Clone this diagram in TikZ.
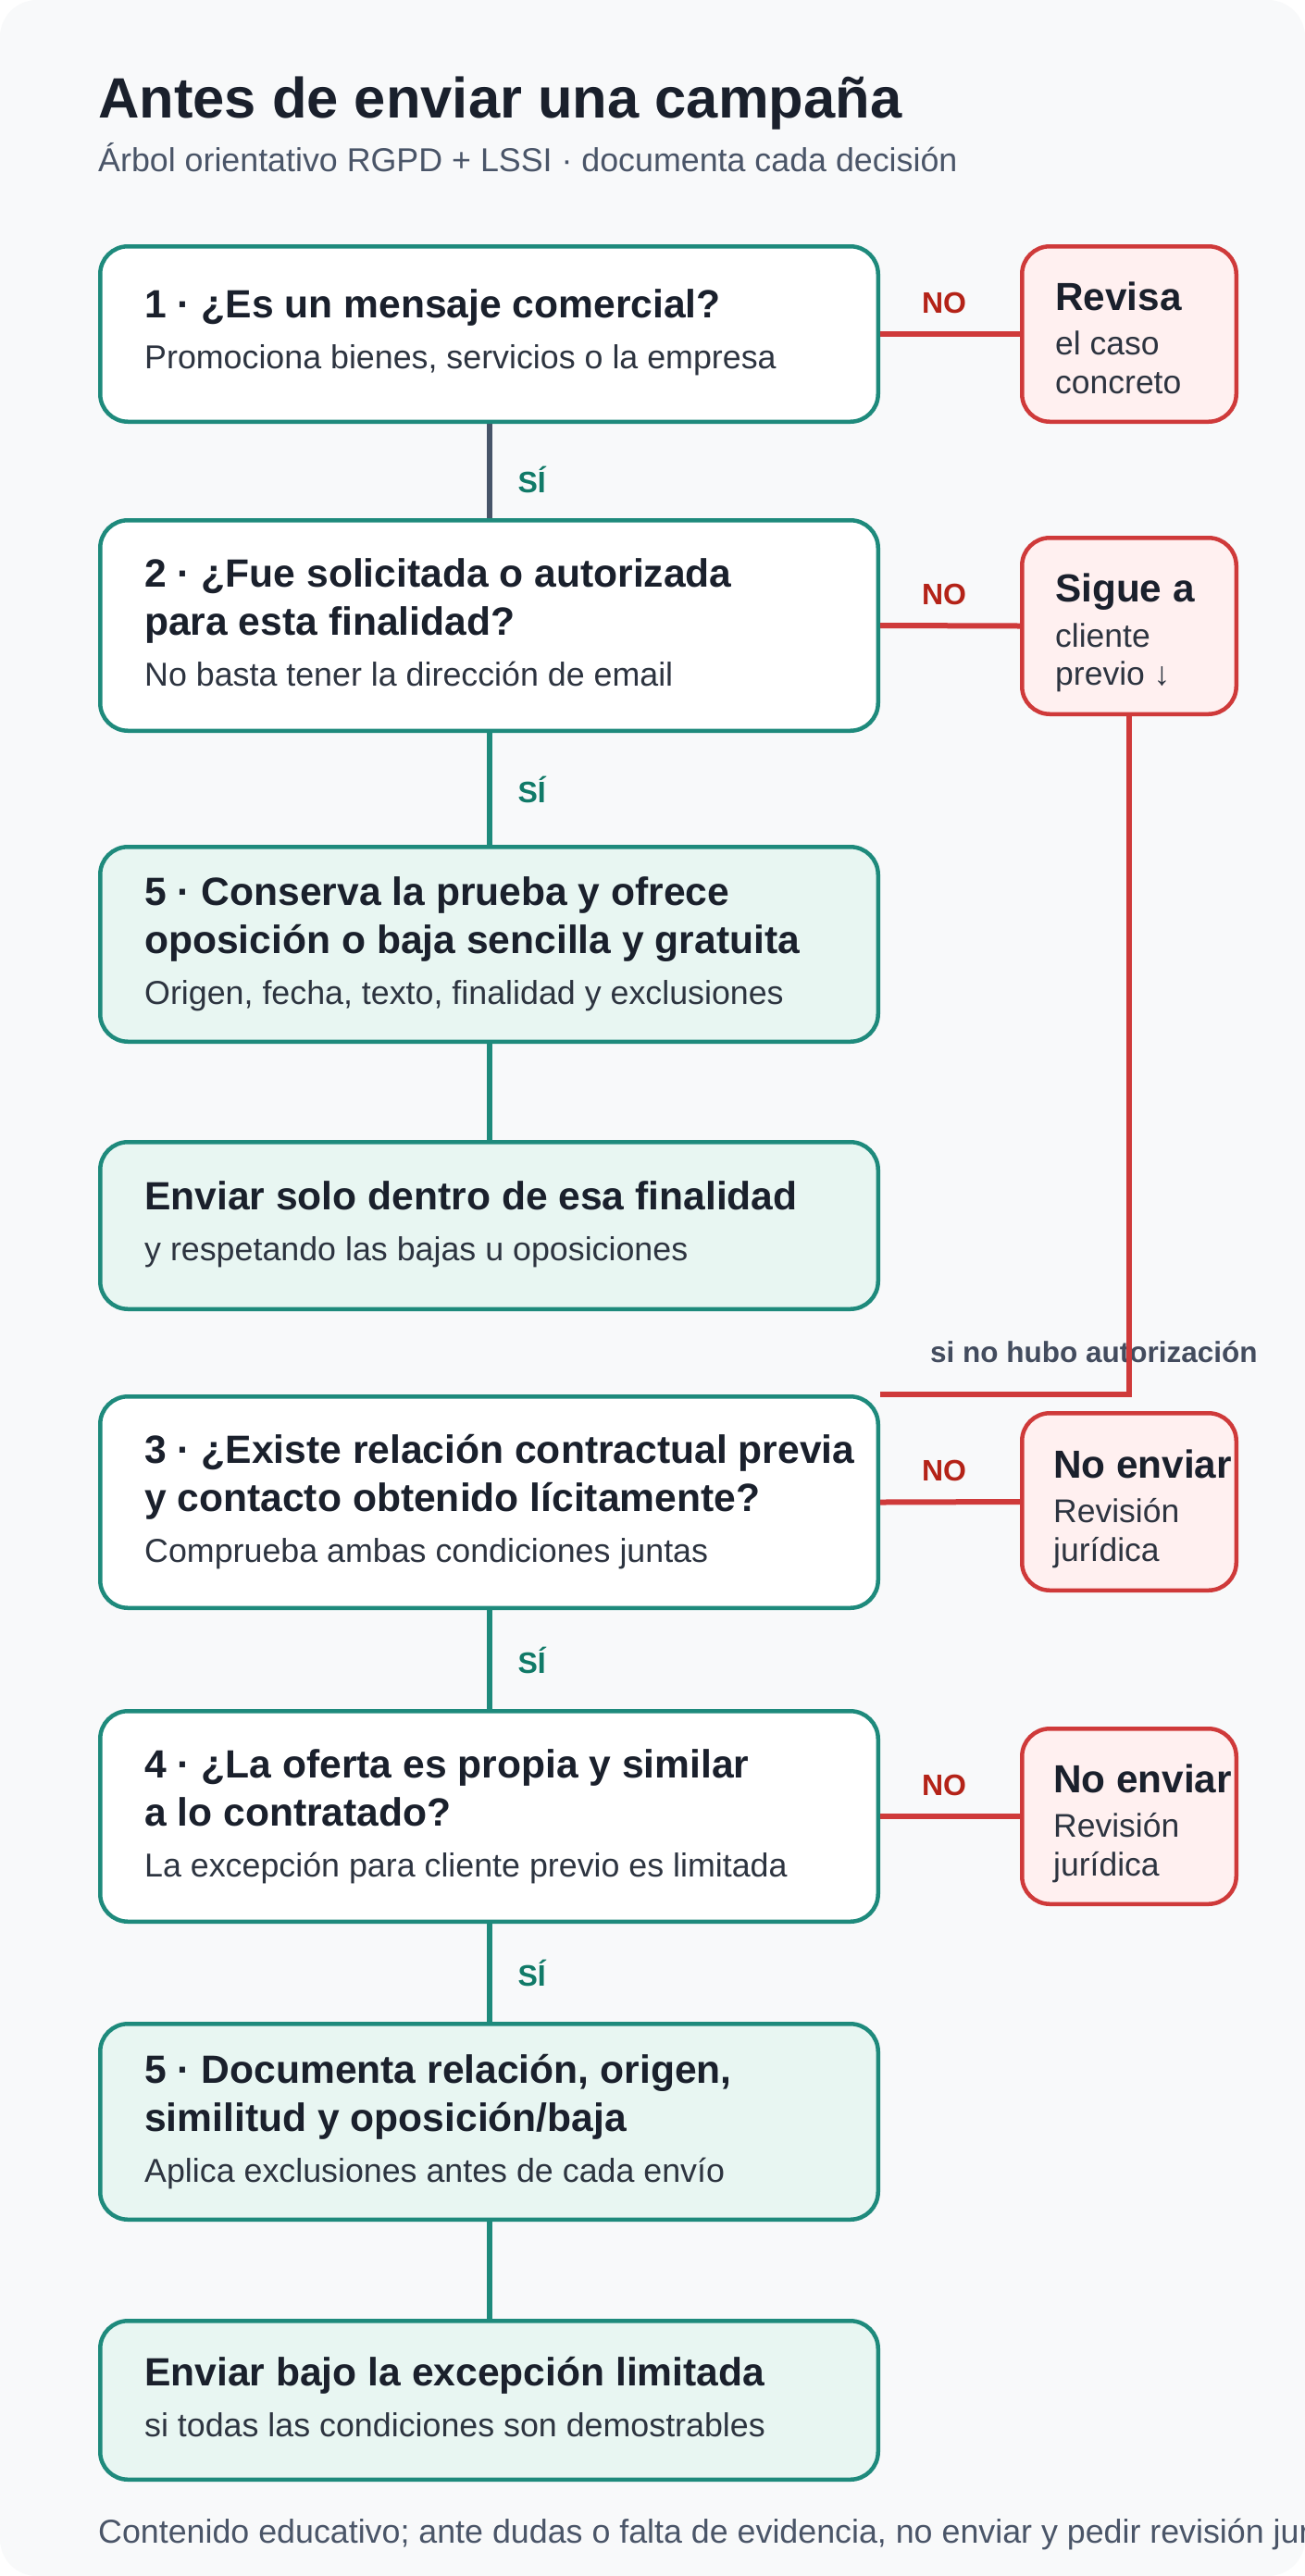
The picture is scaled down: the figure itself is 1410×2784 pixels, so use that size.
\documentclass[tikz,border=0pt]{standalone}
\usepackage{fontspec}
\setmainfont{Liberation Sans}

\definecolor{card}{HTML}{F8F9FA}
\definecolor{ink}{HTML}{1A202C}
\definecolor{subink}{HTML}{2D3440}
\definecolor{muted}{HTML}{4A5568}
\definecolor{tealline}{HTML}{1E8A7C}
\definecolor{slateline}{HTML}{475569}
\definecolor{mint}{HTML}{E8F6F2}
\definecolor{redline}{HTML}{CF3A3A}
\definecolor{rosefill}{HTML}{FFF0F0}
\definecolor{nored}{HTML}{B42318}
\definecolor{yesgreen}{HTML}{117A68}
\definecolor{notegray}{HTML}{434C5E}

% font switch that keeps the font's own word spacing
\newcommand\setfs[2]{\fontsize{#1}{#2}\selectfont\spaceskip=0pt\xspaceskip=0pt\relax}
% question / outcome box contents: bold heading lines, then a regular note line
\newcommand\qtext[2]{{\setfs{42.6}{52.5}\bfseries\color{ink}#1\par}%
  {\setfs{35.8}{55}\color{subink}#2\par}}
% red side boxes: bold heading, then two short regular lines
\newcommand\rtext[2]{{\setfs{42.3}{50}\bfseries\color{ink}#1\par}\vskip 7pt%
  {\setfs{35.5}{41.5}\color{subink}#2\par}}

\tikzset{
  qbox/.style={draw=tealline, line width=4.5pt, fill=white, rounded corners=30pt,
    minimum width=840.5pt, inner sep=0pt},
  okbox/.style={qbox, fill=mint},
  nobox/.style={draw=redline, line width=4.5pt, fill=rosefill, rounded corners=30pt,
    minimum width=231.5pt, inner sep=0pt},
  btxt/.style={anchor=base west, inner sep=0pt, text width=880pt, align=left},
  rtxt/.style={anchor=base west, inner sep=0pt, text width=260pt, align=left},
  yeslink/.style={draw=tealline, line width=6pt},
  firstlink/.style={draw=slateline, line width=6pt},
  nolink/.style={draw=redline, line width=6pt},
  yeslbl/.style={anchor=base west, xshift=28pt, yshift=-14.5pt, inner sep=0pt,
    font=\fontsize{32}{38}\selectfont\bfseries, text=yesgreen},
  nolbl/.style={anchor=base, xshift=-6.5pt, yshift=23pt, inner sep=0pt,
    font=\fontsize{32}{38}\selectfont\bfseries, text=nored},
}

\begin{document}
\begin{tikzpicture}[x=1pt, y=-1pt]
  \useasboundingbox (0,0) rectangle (1410,2784);
  \fill[white] (0,0) rectangle (1410,2784);
  \fill[card, rounded corners=40pt] (0,0) rectangle (1410,2784);

  % heading
  \node[anchor=base west, inner sep=0pt, text=ink, font=\fontsize{61.5}{70}\selectfont\bfseries]
    (title) at (106,127) {Antes de enviar una campaña};
  \node[anchor=base west, inner sep=0pt, text=muted, font=\fontsize{35.8}{42}\selectfont]
    (subtitle) at (106,185) {Árbol orientativo RGPD + LSSI · documenta cada decisión};

  % boxes
  \node[qbox, minimum height=189.5pt] (q1) at (528.5,361) {};
  \node[nobox, minimum height=189.5pt] (r1) at (1220,361) {};
  \node[qbox, minimum height=227.5pt] (q2) at (528.5,676) {};
  \node[nobox, minimum height=190.5pt] (r2) at (1220,676.5) {};
  \node[okbox, minimum height=210.5pt] (g1) at (528.5,1020.5) {};
  \node[okbox, minimum height=180.5pt] (g2) at (528.5,1324.5) {};
  \node[qbox, minimum height=228.5pt] (q3) at (528.5,1623.5) {};
  \node[nobox, minimum height=191.5pt] (r3) at (1220,1623) {};
  \node[qbox, minimum height=227.5pt] (q4) at (528.5,1963) {};
  \node[nobox, minimum height=189.5pt] (r4) at (1220,1963) {};
  \node[okbox, minimum height=211.5pt] (g3) at (528.5,2293) {};
  \node[okbox, minimum height=171.5pt] (g4) at (528.5,2594) {};

  % box texts
  \node[btxt] (q1t) at (156,343) {\qtext{1 · ¿Es un mensaje comercial?}{Promociona bienes, servicios o la empresa}};
  \node[btxt] (q2t) at (156,634) {\qtext{2 · ¿Fue solicitada o autorizada\\para esta finalidad?}{No basta tener la dirección de email}};
  \node[btxt] (g1t) at (156,978) {\qtext{5 · Conserva la prueba y ofrece\\oposición o baja sencilla y gratuita}{Origen, fecha, texto, finalidad y exclusiones}};
  \node[btxt] (g2t) at (156,1307) {\qtext{Enviar solo dentro de esa finalidad}{y respetando las bajas u oposiciones}};
  \node[btxt] (q3t) at (156,1581) {\qtext{3 · ¿Existe relación contractual previa\\y contacto obtenido lícitamente?}{Comprueba ambas condiciones juntas}};
  \node[btxt] (q4t) at (156,1921) {\qtext{4 · ¿La oferta es propia y similar\\a lo contratado?}{La excepción para cliente previo es limitada}};
  \node[btxt] (g3t) at (156,2251) {\qtext{5 · Documenta relación, origen,\\similitud y oposición/baja}{Aplica exclusiones antes de cada envío}};
  \node[btxt] (g4t) at (156,2578) {\qtext{Enviar bajo la excepción limitada}{si todas las condiciones son demostrables}};

  \node[rtxt] (r1t) at (1140,335) {\rtext{Revisa}{el caso\\concreto}};
  \node[rtxt] (r2t) at (1140,650.5) {\rtext{Sigue~a}{cliente\\previo ↓}};
  \node[rtxt] (r3t) at (1138,1597) {\rtext{No~enviar}{Revisión\\jurídica}};
  \node[rtxt] (r4t) at (1138,1937) {\rtext{No~enviar}{Revisión\\jurídica}};

  % yes branches
  \draw[firstlink] (q1.south) -- node[yeslbl, yshift=-8.5pt] {SÍ} (q2.north);
  \draw[yeslink] (q2.south) -- node[yeslbl] {SÍ} (g1.north);
  \draw[yeslink] (g1.south) -- (g2.north);
  \draw[yeslink] (q3.south) -- node[yeslbl] {SÍ} (q4.north);
  \draw[yeslink] (q4.south) -- node[yeslbl] {SÍ} (g3.north);
  \draw[yeslink] (g3.south) -- (g4.north);

  % no branches
  \draw[nolink] (q1.east) -- node[nolbl] {NO} (r1.west);
  \draw[nolink] (q2.east) -- node[nolbl] {NO} (r2.west);
  \draw[nolink] (q3.east) -- node[nolbl] {NO} (r3.west);
  \draw[nolink] (q4.east) -- node[nolbl] {NO} (r4.west);

  % jump from "Sigue a cliente previo" down to question 3
  \node[anchor=base west, inner sep=0pt, text=notegray, font=\fontsize{31.5}{38}\selectfont\bfseries]
    (jumpnote) at (1005,1472) {si no hubo autorización};
  \draw[nolink] (r2.south) |- (q3.north east);

  % footnote, cut at the card edge
  \begin{scope}
    \clip (0,0) rectangle (1410,2784);
    \node[anchor=base west, inner sep=0pt, text=muted, font=\fontsize{35.8}{42}\selectfont]
      (foot) at (106,2748) {Contenido educativo; ante dudas o falta de evidencia, no enviar y pedir revisión jurídica.};
  \end{scope}
\end{tikzpicture}
\end{document}
